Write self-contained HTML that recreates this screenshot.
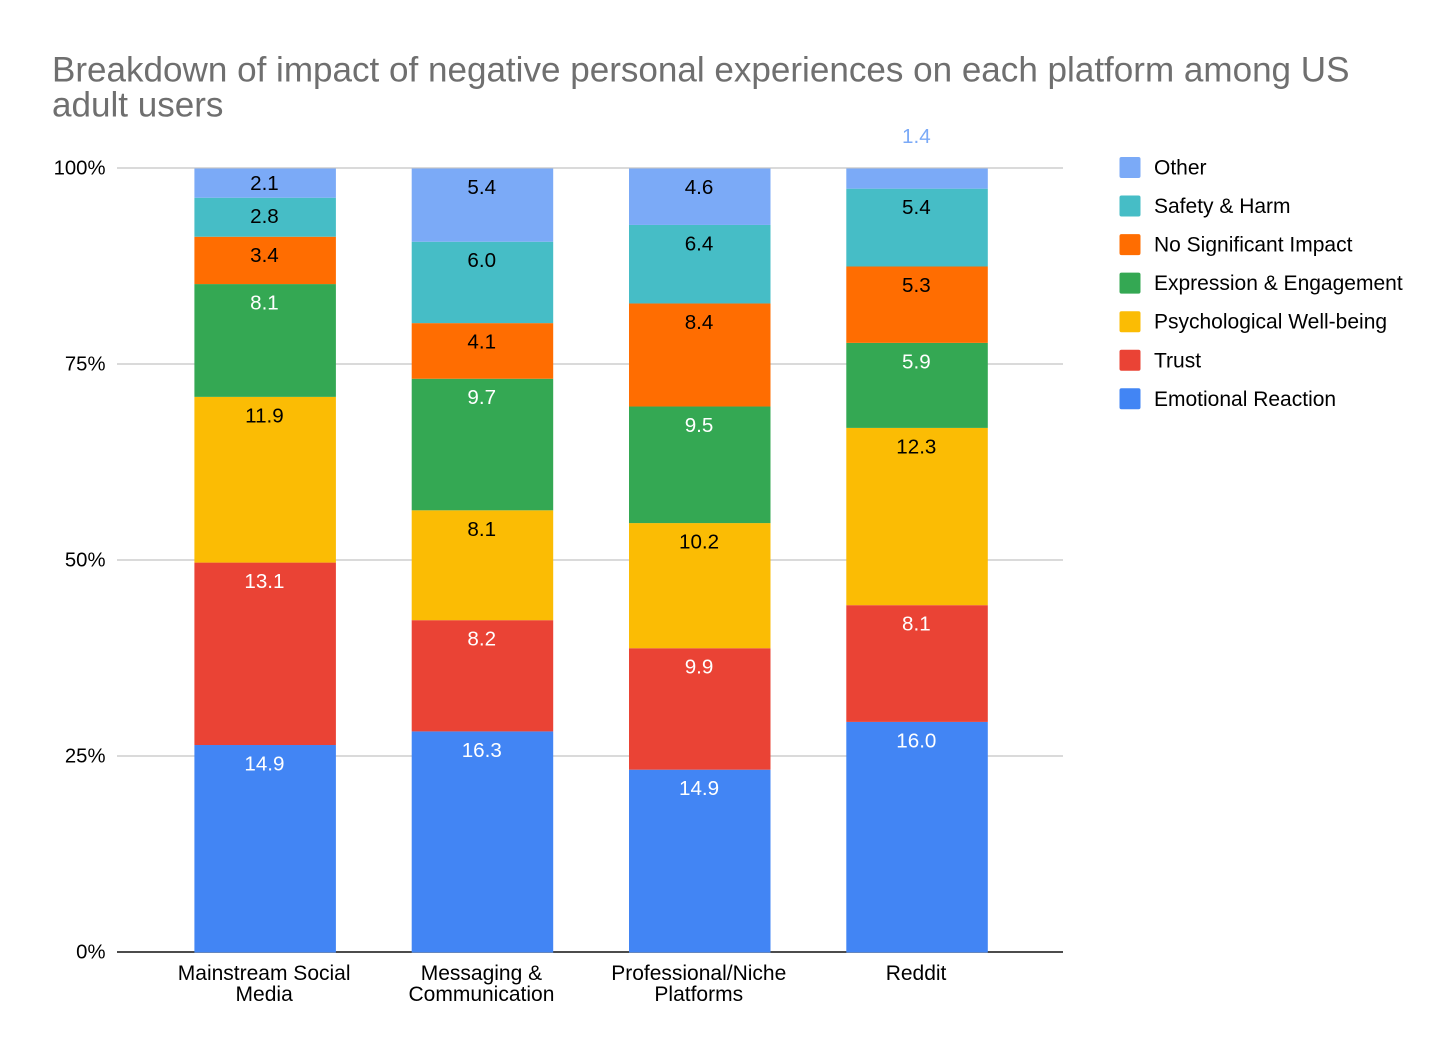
<!DOCTYPE html>
<html lang="en">
<head>
<meta charset="utf-8">
<title>Breakdown of impact of negative personal experiences</title>
<style>
html,body{margin:0;padding:0;background:#fff;}
body{width:1456px;height:1058px;overflow:hidden;}
svg{display:block;font-family:"Liberation Sans",sans-serif;}
</style>
</head>
<body>
<svg id="chart" width="1456" height="1058" viewBox="0 0 1456 1058" xmlns="http://www.w3.org/2000/svg">
  <rect x="0" y="0" width="1456" height="1058" fill="#ffffff"/>
  <g fill="#6f6f6f" font-size="35.05px">
    <text x="52" y="81.5">Breakdown of impact of negative personal experiences on each platform among US</text>
    <text x="52" y="116.5">adult users</text>
  </g>
  <g id="grid"></g>
  <g id="bars"></g>
  <g id="labels"></g>
  <g id="xaxis"></g>
  <g id="legend"></g>
</svg>
<script>
const categories = [["Mainstream Social", "Media"], ["Messaging &", "Communication"], ["Professional/Niche", "Platforms"], ["Reddit"]];
const seriesNames = ["Emotional Reaction", "Trust", "Psychological Well-being", "Expression & Engagement", "No Significant Impact", "Safety & Harm", "Other"];
const emotionalReaction = [14.9, 16.3, 14.9, 16.0];
const trust = [13.1, 8.2, 9.9, 8.1];
const psychologicalWellBeing = [11.9, 8.1, 10.2, 12.3];
const expressionEngagement = [8.1, 9.7, 9.5, 5.9];
const noSignificantImpact = [3.4, 4.1, 8.4, 5.3];
const safetyHarm = [2.8, 6.0, 6.4, 5.4];
const other = [2.1, 5.4, 4.6, 1.4];
const seriesColors = ["#4285f4", "#ea4335", "#fbbc04", "#34a853", "#ff6d01", "#46bdc6", "#7baaf7"];
const labelColors = ["#ffffff", "#ffffff", "#000000", "#ffffff", "#000000", "#000000", "#000000"];
const yTicks = [0, 25, 50, 75, 100];

const seriesValues = [emotionalReaction, trust, psychologicalWellBeing, expressionEngagement, noSignificantImpact, safetyHarm, other];
const NS = "http://www.w3.org/2000/svg";
const plotTop = 168, plotBottom = 952, axisLeft = 117, axisRight = 1063;
const bandLeft = 156.5, bandStep = 217.3, barWidth = 141.5;

function yScale(pct) { return plotBottom - (pct / 100) * (plotBottom - plotTop); }
function xCenter(i) { return bandLeft + bandStep * (i + 0.5); }
function make(tag, attrs, parent, text) {
  const el = document.createElementNS(NS, tag);
  for (const k in attrs) el.setAttribute(k, attrs[k]);
  if (text !== undefined) el.textContent = text;
  parent.appendChild(el);
  return el;
}
function slug(s) { return s.toLowerCase().replace(/[^a-z0-9]+/g, '-').replace(/^-|-$/g, ''); }

const gridG = document.getElementById('grid');
const barsG = document.getElementById('bars');
const labelsG = document.getElementById('labels');
const xG = document.getElementById('xaxis');
const legendG = document.getElementById('legend');

yTicks.forEach(function (t) {
  const y = yScale(t);
  const line = make('line', {x1: axisLeft, x2: axisRight, y1: y, y2: y, stroke: t === 0 ? '#111111' : '#c4c4c4', 'stroke-width': t === 0 ? 1.4 : 1.3}, gridG);
  
  
  const label = make('text', {x: 105.5, y: y + 6.5, 'text-anchor': 'end', 'font-size': '20.3px', fill: '#000000'}, gridG, t + '%');
  
  
});

categories.forEach(function (cat, i) {
  const total = seriesValues.reduce(function (sum, s) { return sum + s[i]; }, 0);
  const cx = xCenter(i);
  let cum = 0;
  seriesValues.forEach(function (s, j) {
    const yTop = yScale((cum + s[i]) / total * 100);
    const yBot = yScale(cum / total * 100);
    const h = yBot - yTop;
    const rect = make('rect', {x: cx - barWidth / 2, y: yTop + 0.5, width: barWidth, height: h, fill: seriesColors[j]}, barsG);
    
    
    const small = h < 24;
    const label = make('text', {
      x: cx - 0.7,
      y: small ? yTop - 25 : yTop + Math.min(18.5, h / 2) + 7.5,
      'text-anchor': 'middle',
      'font-size': '20.6px',
      fill: small ? seriesColors[j] : labelColors[j]
    }, labelsG, s[i].toFixed(1));
    
    
    cum += s[i];
  });
  cat.forEach(function (line, k) {
    const t = make('text', {x: cx - 1, y: 980 + k * 21, 'text-anchor': 'middle', 'font-size': '21px', fill: '#000000'}, xG, line);
    
    
  });
});

seriesNames.slice().reverse().forEach(function (name, idx) {
  const colorIdx = seriesNames.length - 1 - idx;
  const y = 167.5 + idx * 38.55;
  const g = make('g', {}, legendG);
  
  
  make('rect', {x: 1119.5, y: y - 10.5, width: 21, height: 21, rx: 2, ry: 2, fill: seriesColors[colorIdx]}, g);
  make('text', {x: 1154, y: y + 7, 'font-size': '21px', fill: '#000000'}, g, name);
});
</script>
</body>
</html>
